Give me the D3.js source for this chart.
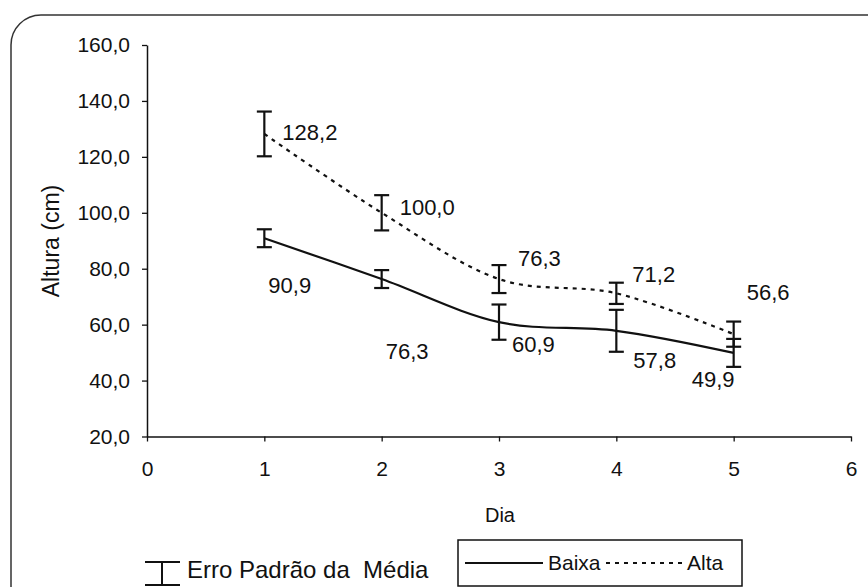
<!DOCTYPE html>
<html>
<head>
<meta charset="utf-8">
<script src="https://cdn.jsdelivr.net/npm/d3@7"></script>
<style>
  html, body { margin: 0; padding: 0; background: #fff; }
  svg { display: block; font-family: "Liberation Sans", Arial, sans-serif; }
</style>
</head>
<body>
<svg id="chart" width="868" height="587"></svg>
<script>
// ---- data ----
const dias = [1, 2, 3, 4, 5];
const baixa = [90.9, 76.3, 60.9, 57.8, 49.9];
const alta = [128.2, 100.0, 76.3, 71.2, 56.6];
const erroBaixa = [3.2, 3.2, 6.3, 7.5, 5.0];
const erroAlta = [8.0, 6.3, 5.0, 3.8, 4.5];
const xTicks = [0, 1, 2, 3, 4, 5, 6];
const yTicks = [20, 40, 60, 80, 100, 120, 140, 160];
const seriesNames = ["Baixa", "Alta"];
const xTitle = "Dia";
const yTitle = "Altura (cm)";
const errLegend = "Erro Padrão da  Média";

// label placement offsets relative to the point: [dx, dy of baseline]
const labelOffAlta = [[18, 6], [18, 2], [19, -13], [16, -11], [13, -34]];
const labelOffBaixa = [[4, 55], [4, 80], [13, 30], [17, 37], [-42, 34]];

const svg = d3.select("#chart");
const fmt = v => d3.format(".1f")(v).replace(".", ",");

const x = d3.scaleLinear().domain([0, 6]).range([147, 851]);
const y = d3.scaleLinear().domain([20, 160]).range([436.5, 45]);

// border
svg.append("rect")
  .attr("x", 11).attr("y", 15).attr("width", 890).attr("height", 610)
  .attr("rx", 30).attr("ry", 30)
  .attr("fill", "none").attr("stroke", "#333").attr("stroke-width", 1.5);

// axes
const yAxis = d3.axisLeft(y).tickValues(yTicks).tickFormat(fmt)
  .tickSize(5).tickSizeOuter(0).tickPadding(12);
const gy = svg.append("g").attr("transform", `translate(${x(0)},0)`).call(yAxis);
const xAxis = d3.axisBottom(x).tickValues(xTicks).tickFormat(d3.format("d"))
  .tickSize(5).tickSizeOuter(0).tickPadding(20);
const gx = svg.append("g").attr("transform", `translate(0,${y(20)})`).call(xAxis);
[gx, gy].forEach(g => {
  g.select(".domain").attr("stroke", "#111").attr("stroke-width", 1.5);
  g.selectAll(".tick line").attr("stroke", "#111").attr("stroke-width", 1.3);
  g.selectAll(".tick text").attr("fill", "#111").style("font-size", "21px")
    .style("font-family", "Liberation Sans, Arial, sans-serif");
});

// axis titles
svg.append("text").attr("x", 500).attr("y", 522).attr("text-anchor", "middle")
  .style("font-size", "20px").attr("fill", "#111").text(xTitle);
svg.append("text").attr("transform", `translate(59,241) rotate(-90)`)
  .attr("text-anchor", "middle").style("font-size", "23px").attr("fill", "#111").text(yTitle);

// lines
const line = d3.line().x((d, i) => x(dias[i])).y(d => y(d)).curve(d3.curveCatmullRom.alpha(0));
svg.append("path").datum(baixa).attr("d", line)
  .attr("fill", "none").attr("stroke", "#111").attr("stroke-width", 2.2);
svg.append("path").datum(alta).attr("d", line)
  .attr("fill", "none").attr("stroke", "#111").attr("stroke-width", 2.2)
  .attr("stroke-dasharray", "4,5");

// error bars
function errBars(vals, errs) {
  const g = svg.append("g").attr("stroke", "#111").attr("stroke-width", 2.2);
  vals.forEach((v, i) => {
    const cx = x(dias[i]);
    const y0 = y(v + errs[i]), y1 = y(v - errs[i]);
    g.append("line").attr("x1", cx).attr("x2", cx).attr("y1", y0).attr("y2", y1);
    g.append("line").attr("x1", cx - 7.5).attr("x2", cx + 7.5).attr("y1", y0).attr("y2", y0);
    g.append("line").attr("x1", cx - 7.5).attr("x2", cx + 7.5).attr("y1", y1).attr("y2", y1);
  });
}
errBars(baixa, erroBaixa);
errBars(alta, erroAlta);

// data labels
function labels(vals, offs) {
  vals.forEach((v, i) => {
    svg.append("text")
      .attr("x", x(dias[i]) + offs[i][0])
      .attr("y", y(v) + offs[i][1])
      .style("font-size", "22px").attr("fill", "#111").text(fmt(v));
  });
}
labels(alta, labelOffAlta);
labels(baixa, labelOffBaixa);

// legend: error bar
const el = svg.append("g").attr("stroke", "#111").attr("stroke-width", 2);
el.append("line").attr("x1", 145).attr("x2", 180).attr("y1", 562).attr("y2", 562);
el.append("line").attr("x1", 162).attr("x2", 162).attr("y1", 562).attr("y2", 586);
el.append("line").attr("x1", 145).attr("x2", 180).attr("y1", 585).attr("y2", 585);
svg.append("text").attr("x", 187).attr("y", 578).style("font-size", "24px")
  .attr("fill", "#111").style("white-space", "pre").text(errLegend);

// legend: series
svg.append("rect").attr("x", 458).attr("y", 540).attr("width", 284).attr("height", 46)
  .attr("fill", "#fff").attr("stroke", "#111").attr("stroke-width", 1.5);
svg.append("line").attr("x1", 465).attr("x2", 543).attr("y1", 563).attr("y2", 563)
  .attr("stroke", "#111").attr("stroke-width", 2);
svg.append("text").attr("x", 548).attr("y", 570).style("font-size", "21px").attr("fill", "#111").text(seriesNames[0]);
svg.append("line").attr("x1", 606).attr("x2", 684).attr("y1", 563).attr("y2", 563)
  .attr("stroke", "#111").attr("stroke-width", 2).attr("stroke-dasharray", "4,5");
svg.append("text").attr("x", 687).attr("y", 570).style("font-size", "21px").attr("fill", "#111").text(seriesNames[1]);
</script>
</body>
</html>
